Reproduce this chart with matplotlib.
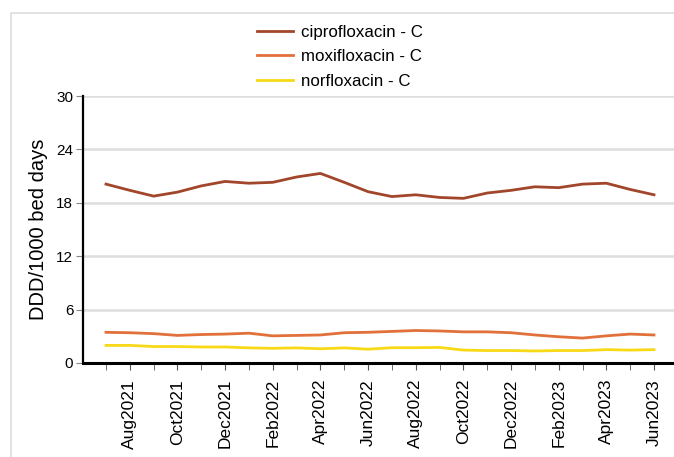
import numpy as np
import matplotlib.pyplot as plt
from matplotlib.patches import Rectangle

plt.rcParams['font.family'] = ['Liberation Sans', 'DejaVu Sans']

#%% data
months = ["Jul2021", "Aug2021", "Sep2021", "Oct2021", "Nov2021", "Dec2021",
          "Jan2022", "Feb2022", "Mar2022", "Apr2022", "May2022", "Jun2022",
          "Jul2022", "Aug2022", "Sep2022", "Oct2022", "Nov2022", "Dec2022",
          "Jan2023", "Feb2023", "Mar2023", "Apr2023", "May2023", "Jun2023"]
cipro = [20.1, 19.4, 18.75, 19.2, 19.9, 20.4, 20.2, 20.3, 20.9, 21.3, 20.3, 19.25,
         18.7, 18.9, 18.6, 18.5, 19.1, 19.4, 19.8, 19.7, 20.1, 20.2, 19.5, 18.9]
moxi = [3.45, 3.4, 3.3, 3.1, 3.2, 3.25, 3.35, 3.05, 3.1, 3.15, 3.4, 3.45,
        3.55, 3.65, 3.6, 3.5, 3.5, 3.4, 3.15, 2.95, 2.8, 3.05, 3.25, 3.15]
norflo = [1.98, 1.98, 1.85, 1.85, 1.8, 1.8, 1.7, 1.65, 1.7, 1.6, 1.7, 1.55,
          1.72, 1.72, 1.75, 1.45, 1.4, 1.4, 1.35, 1.4, 1.4, 1.5, 1.45, 1.5]
series = [("ciprofloxacin - C", cipro, "#a2462b"),
          ("moxifloxacin - C", moxi, "#e2703b"),
          ("norfloxacin - C", norflo, "#f7d917")]

#%% plot
fig = plt.figure(figsize=(6.74, 4.57), dpi=100)
# light panel border, partly cut off by the image edge
fig.patches.append(Rectangle((11 / 674, -0.1), 1.2, 0.1 + 1 - 13 / 457,
                             transform=fig.transFigure, fill=False,
                             edgecolor="#dddddd", linewidth=1.2))
ax = fig.add_axes([83 / 674, 1 - 363 / 457, 1 - 83 / 674, (363 - 96) / 457])

x = np.arange(len(months))
for name, vals, col in series:
    ax.plot(x, vals, color=col, linewidth=2, label=name)

ax.set_ylim(0, 30)
ax.set_yticks(range(0, 31, 6))
ax.set_xlim(-0.965, 23.84)
ax.set_xticks(x[1::2])
ax.set_xticklabels(months[1::2], rotation=90, fontsize=12.5)
ax.set_xticks(x, minor=True)
ax.grid(axis="y", color="#dddddd", linewidth=1.8)
ax.set_axisbelow(True)
for s in ["top", "right"]:
    ax.spines[s].set_visible(False)
ax.spines["left"].set_linewidth(1.6)
ax.spines["bottom"].set_linewidth(2.2)
ax.tick_params(axis="y", length=5, color="#888888", labelsize=11, pad=2)
ax.tick_params(axis="x", which="both", length=5, color="#555555", pad=6.5)
ax.set_ylabel("DDD/1000 bed days", fontsize=14.5, labelpad=6)

ax.legend(loc="center", bbox_to_anchor=(0.435, 1.147), frameon=False,
          fontsize=12.2, handlelength=2.1, handletextpad=0.5,
          labelspacing=0.57, borderaxespad=0)

fig.savefig("out.png", dpi=100)
